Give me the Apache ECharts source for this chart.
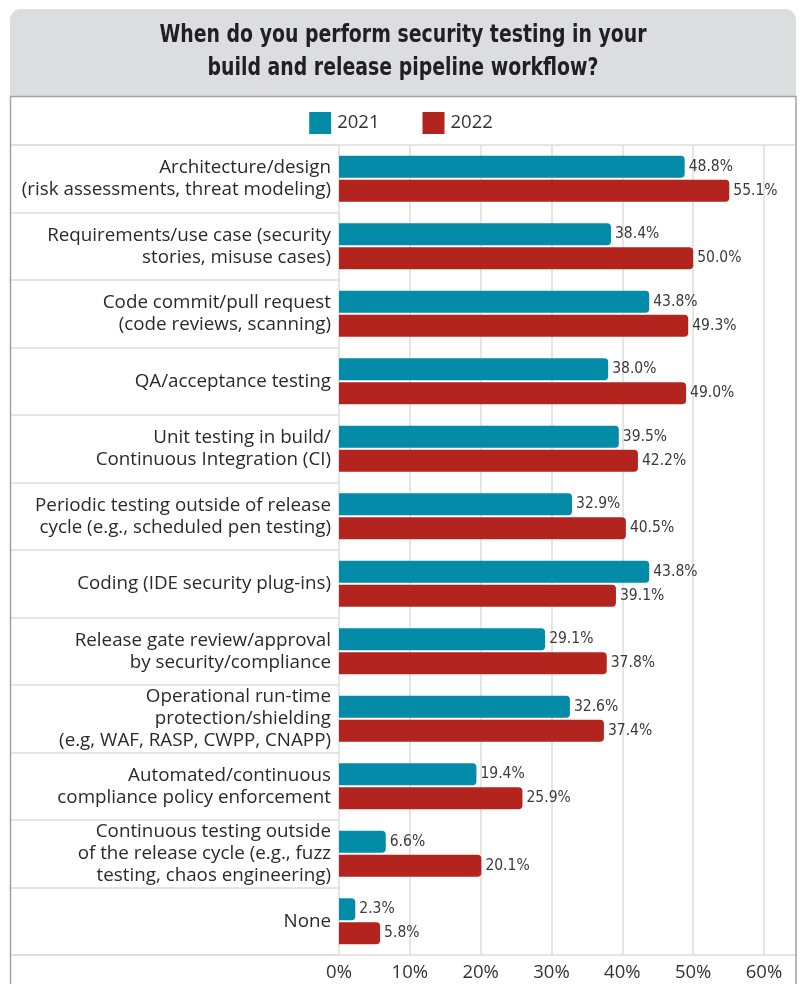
<!DOCTYPE html>
<html>
<head>
<meta charset="utf-8">
<script src="https://cdn.jsdelivr.net/npm/echarts@6/dist/echarts.min.js"></script>
<style>
  html, body { margin: 0; padding: 0; background: #ffffff; }
  #chart { width: 802px; height: 984px; }
</style>
</head>
<body>
<div id="chart"></div>
<script>
// Survey answers: when security testing is performed in the pipeline
const categories = [
  'Architecture/design\n(risk assessments, threat modeling)',
  'Requirements/use case (security\nstories, misuse cases)',
  'Code commit/pull request\n(code reviews, scanning)',
  'QA/acceptance testing',
  'Unit testing in build/\nContinuous Integration (CI)',
  'Periodic testing outside of release\ncycle (e.g., scheduled pen testing)',
  'Coding (IDE security plug-ins)',
  'Release gate review/approval\nby security/compliance',
  'Operational run-time\nprotection/shielding\n(e.g, WAF, RASP, CWPP, CNAPP)',
  'Automated/continuous\ncompliance policy enforcement',
  'Continuous testing outside\nof the release cycle (e.g., fuzz\ntesting, chaos engineering)',
  'None'
];
const values2021 = [48.8, 38.4, 43.8, 38.0, 39.5, 32.9, 43.8, 29.1, 32.6, 19.4, 6.6, 2.3];
const values2022 = [55.1, 50.0, 49.3, 49.0, 42.2, 40.5, 39.1, 37.8, 37.4, 25.9, 20.1, 5.8];
const xTicks = { min: 0, max: 60, interval: 10 };

const titleLines = [
  'When do you perform security testing in your',
  'build and release pipeline workflow?'
];

const bodyFont = '"Open Sans", "Noto Sans", sans-serif';
const narrowFont = '"Liberation Sans Narrow", "DejaVu Sans Condensed", "Roboto Condensed", "Liberation Sans", sans-serif';

const TEAL = '#048ba8';
const RED = '#b3241f';

const chart = echarts.init(document.getElementById('chart'), null, { renderer: 'canvas' });

const PLOT_LEFT = 339, PLOT_RIGHT = 764, PLOT_TOP = 145, PLOT_BOTTOM = 955;
const PANEL_L = 10.5, PANEL_R = 796;

const valueLabel = {
  show: true,
  position: 'right',
  distance: 4,
  formatter: p => p.value.toFixed(1) + '%',
  fontFamily: narrowFont,
  fontSize: 15.5,
  color: '#3a3a3a'
};

chart.setOption({
  backgroundColor: '#ffffff',
  animation: false,
  legend: {
    top: 107,
    left: 'center',
    itemWidth: 22,
    itemHeight: 22,
    itemGap: 43,
    icon: 'rect',
    textStyle: { fontFamily: bodyFont, fontSize: 18.5, color: '#333', padding: [0, 0, 0, 1] },
    data: ['2021', '2022']
  },
  grid: [
    { left: PLOT_LEFT, width: PLOT_RIGHT - PLOT_LEFT, top: PLOT_TOP, height: PLOT_BOTTOM - PLOT_TOP },
    { left: PANEL_L, width: PLOT_LEFT - PANEL_L, top: PLOT_TOP, height: PLOT_BOTTOM - PLOT_TOP }
  ],
  xAxis: [
    {
      gridIndex: 0,
      type: 'value',
      min: xTicks.min,
      max: xTicks.max,
      interval: xTicks.interval,
      axisLine: { show: false },
      axisTick: { show: false },
      splitLine: { show: true, lineStyle: { color: '#dcdcdc', width: 1.5 } },
      axisLabel: {
        formatter: '{value}%',
        fontFamily: bodyFont,
        fontSize: 18.5,
        color: '#333',
        margin: 8
      }
    },
    { gridIndex: 1, type: 'value', show: false }
  ],
  yAxis: [
    {
      gridIndex: 0,
      type: 'category',
      data: categories,
      inverse: true,
      axisLine: { show: false },
      axisTick: { show: false },
      splitLine: { show: false },
      axisLabel: {
        fontFamily: bodyFont,
        fontSize: 18.8,
        lineHeight: 22,
        color: '#2a2a2a',
        margin: 8,
        align: 'right'
      }
    },
    {
      gridIndex: 1,
      type: 'category',
      data: categories,
      inverse: true,
      axisLine: { show: false },
      axisTick: { show: false },
      axisLabel: { show: false },
      splitLine: { show: true, lineStyle: { color: '#dcdcdc', width: 1.5 } }
    }
  ],
  series: [
    {
      name: '2021',
      type: 'bar',
      xAxisIndex: 0,
      yAxisIndex: 0,
      data: values2021,
      barWidth: 22,
      barGap: '8%',
      itemStyle: { color: TEAL, borderRadius: [0, 4, 4, 0] },
      label: valueLabel
    },
    {
      name: '2022',
      type: 'bar',
      xAxisIndex: 0,
      yAxisIndex: 0,
      data: values2022,
      barWidth: 22,
      barGap: '8%',
      itemStyle: { color: RED, borderRadius: [0, 4, 4, 0] },
      label: valueLabel
    }
  ],
  graphic: [
    // header band
    {
      type: 'rect', z: -10,
      shape: { x: 10, y: 9, width: 786, height: 87, r: [11, 11, 0, 0] },
      style: { fill: '#dcdddf' }
    },
    // heading, squeezed horizontally to a condensed face
    {
      type: 'text', z: 20, silent: true,
      x: 403, y: 19, scaleX: 0.84,
      style: {
        text: titleLines.join('\n'),
        x: 0, y: 0,
        align: 'center',
        verticalAlign: 'top',
        fontFamily: narrowFont,
        fontWeight: 'bold',
        fontSize: 25,
        lineHeight: 33,
        fill: '#231f20'
      }
    },
    // panel frame
    {
      type: 'polyline', z: 10, silent: true,
      shape: { points: [[PANEL_L, 984], [PANEL_L, 96.5], [PANEL_R, 96.5], [PANEL_R, 984]] },
      style: { stroke: '#a3a3a3', lineWidth: 1.5, fill: null }
    },
    // top and bottom rules of the plotting band
    {
      type: 'line', z: 5, silent: true,
      shape: { x1: PANEL_L, y1: PLOT_TOP, x2: PANEL_R, y2: PLOT_TOP },
      style: { stroke: '#dcdcdc', lineWidth: 1.5 }
    },
    {
      type: 'line', z: 5, silent: true,
      shape: { x1: PANEL_L, y1: PLOT_BOTTOM, x2: PANEL_R, y2: PLOT_BOTTOM },
      style: { stroke: '#dcdcdc', lineWidth: 1.5 }
    }
  ]
});
</script>
</body>
</html>
